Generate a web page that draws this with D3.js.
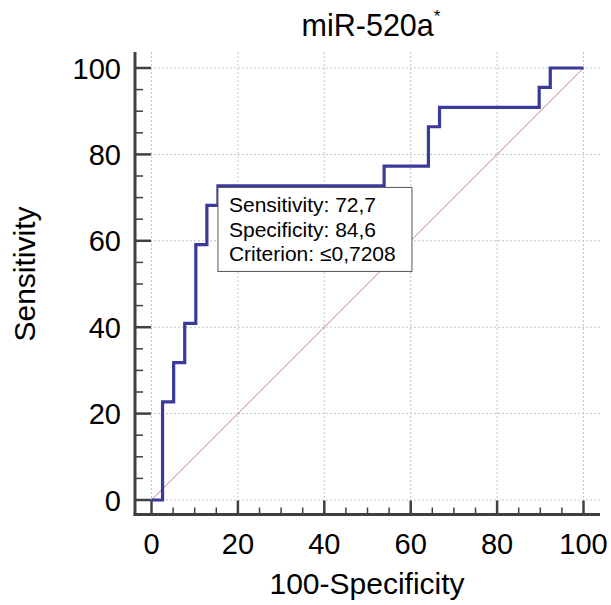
<html>
  <head>
    <meta charset="utf-8">
    <title>miR-520a ROC</title>
    <script src="https://d3js.org/d3.v7.min.js"></script>
    <style>
      body { margin: 0; background: #fff; }
      text { font-family: Arial, "Liberation Sans", sans-serif; fill: #000; }
    </style>
  </head>
  <body>
    <svg id="chart" width="611" height="605"></svg>

    <script>
      // ROC corner points (100-Specificity, Sensitivity)
      const fpr = [0, 2.56, 5.13, 7.69, 10.26, 12.82, 15.38, 53.85, 64.10, 66.67, 89.74, 92.31, 100];
      const tpr = [0, 22.7, 31.8, 40.9, 59.1, 68.2, 72.7, 77.3, 86.4, 90.9, 95.5, 100, 100];
      const majorTicks = [0, 20, 40, 60, 80, 100];
      const minorTicks = d3.range(0, 101, 5);
      const boxLines = ["Sensitivity: 72,7", "Specificity: 84,6", "Criterion: \u22640,7208"];
      const criterion = { x: 15.38, y: 72.7 };

      const svg = d3.select("svg#chart");
      const axisColor = "#404040";

      const x = d3.scaleLinear().domain([0, 100]).range([151.5, 583.5]);
      const y = d3.scaleLinear().domain([0, 100]).range([500, 68]);

      const xAxisY = 514.5, yAxisX = 135;

      // grid (dotted)
      const grid = svg.append("g").attr("stroke", "#c4c4c4").attr("stroke-width", 1)
                      .attr("stroke-dasharray", "2,2");
      grid.selectAll("line.gx").data(majorTicks).join("line")
          .attr("class", "gx")
          .attr("x1", d => x(d)).attr("x2", d => x(d))
          .attr("y1", 52).attr("y2", xAxisY - 13);
      grid.selectAll("line.gy").data(majorTicks).join("line")
          .attr("class", "gy")
          .attr("y1", d => y(d)).attr("y2", d => y(d))
          .attr("x1", yAxisX + 15).attr("x2", 600);

      // chance diagonal
      svg.append("line")
         .attr("x1", x(0)).attr("y1", y(0)).attr("x2", x(100)).attr("y2", y(100))
         .attr("stroke", "#b85a5a").attr("stroke-width", 0.8);

      // axes with inward ticks
      const ax = svg.append("g").attr("stroke", axisColor);
      ax.append("line").attr("x1", yAxisX).attr("x2", yAxisX)
        .attr("y1", 52).attr("y2", xAxisY + 1.5).attr("stroke-width", 3);
      ax.append("line").attr("x1", yAxisX - 1.5).attr("x2", 600)
        .attr("y1", xAxisY).attr("y2", xAxisY).attr("stroke-width", 3);

      ax.selectAll("line.ty").data(minorTicks).join("line")
        .attr("class", "ty")
        .attr("stroke-width", d => d % 20 === 0 ? 2.5 : 1.5)
        .attr("x1", yAxisX).attr("x2", d => yAxisX + (d % 20 === 0 ? 16 : 8))
        .attr("y1", d => y(d)).attr("y2", d => y(d));
      ax.selectAll("line.tx").data(minorTicks).join("line")
        .attr("class", "tx")
        .attr("stroke-width", d => d % 20 === 0 ? 2.5 : 1.5)
        .attr("y1", xAxisY).attr("y2", d => xAxisY - (d % 20 === 0 ? 14 : 7))
        .attr("x1", d => x(d)).attr("x2", d => x(d));

      // tick labels
      svg.selectAll("text.lx").data(majorTicks).join("text")
         .attr("class", "lx")
         .attr("x", d => x(d)).attr("y", 554)
         .attr("text-anchor", "middle")
         .style("font-size", "29px")
         .text(d => d);
      svg.selectAll("text.ly").data(majorTicks).join("text")
         .attr("class", "ly")
         .attr("x", 121).attr("y", d => y(d) + 10.5)
         .attr("text-anchor", "end")
         .style("font-size", "29px")
         .text(d => d);

      // axis titles
      svg.append("text")
         .attr("x", 367).attr("y", 594)
         .attr("text-anchor", "middle")
         .style("font-size", "30px")
         .text("100-Specificity");
      svg.append("text")
         .attr("transform", "translate(35,274) rotate(-90)")
         .attr("text-anchor", "middle")
         .style("font-size", "30px")
         .text("Sensitivity");

      // title
      const title = svg.append("text")
         .attr("x", 371).attr("y", 36)
         .attr("text-anchor", "middle")
         .style("font-size", "30.5px");
      title.append("tspan").text("miR-520a");
      title.append("tspan").attr("dy", -14).style("font-size", "17px").text("*");

      // ROC step line
      const pts = fpr.map((d, i) => [d, tpr[i]]);
      const line = d3.line().x(d => x(d[0])).y(d => y(d[1])).curve(d3.curveStepAfter);
      svg.append("path").datum(pts)
         .attr("d", line)
         .attr("fill", "none")
         .attr("stroke", "#3a3a9c")
         .attr("stroke-width", 3.2);

      // criterion box
      const bx = x(criterion.x), by = y(criterion.y) + 1.5;
      const box = svg.append("g").attr("transform", `translate(${bx},${by})`);
      box.append("rect")
         .attr("width", 194).attr("height", 84)
         .attr("fill", "#fff").attr("stroke", "#555").attr("stroke-width", 1);
      box.selectAll("text").data(boxLines).join("text")
         .attr("x", 11).attr("y", (d, i) => 25 + i * 24.5)
         .style("font-size", "21px")
         .text(d => d);
    </script>
  </body>
</html>
